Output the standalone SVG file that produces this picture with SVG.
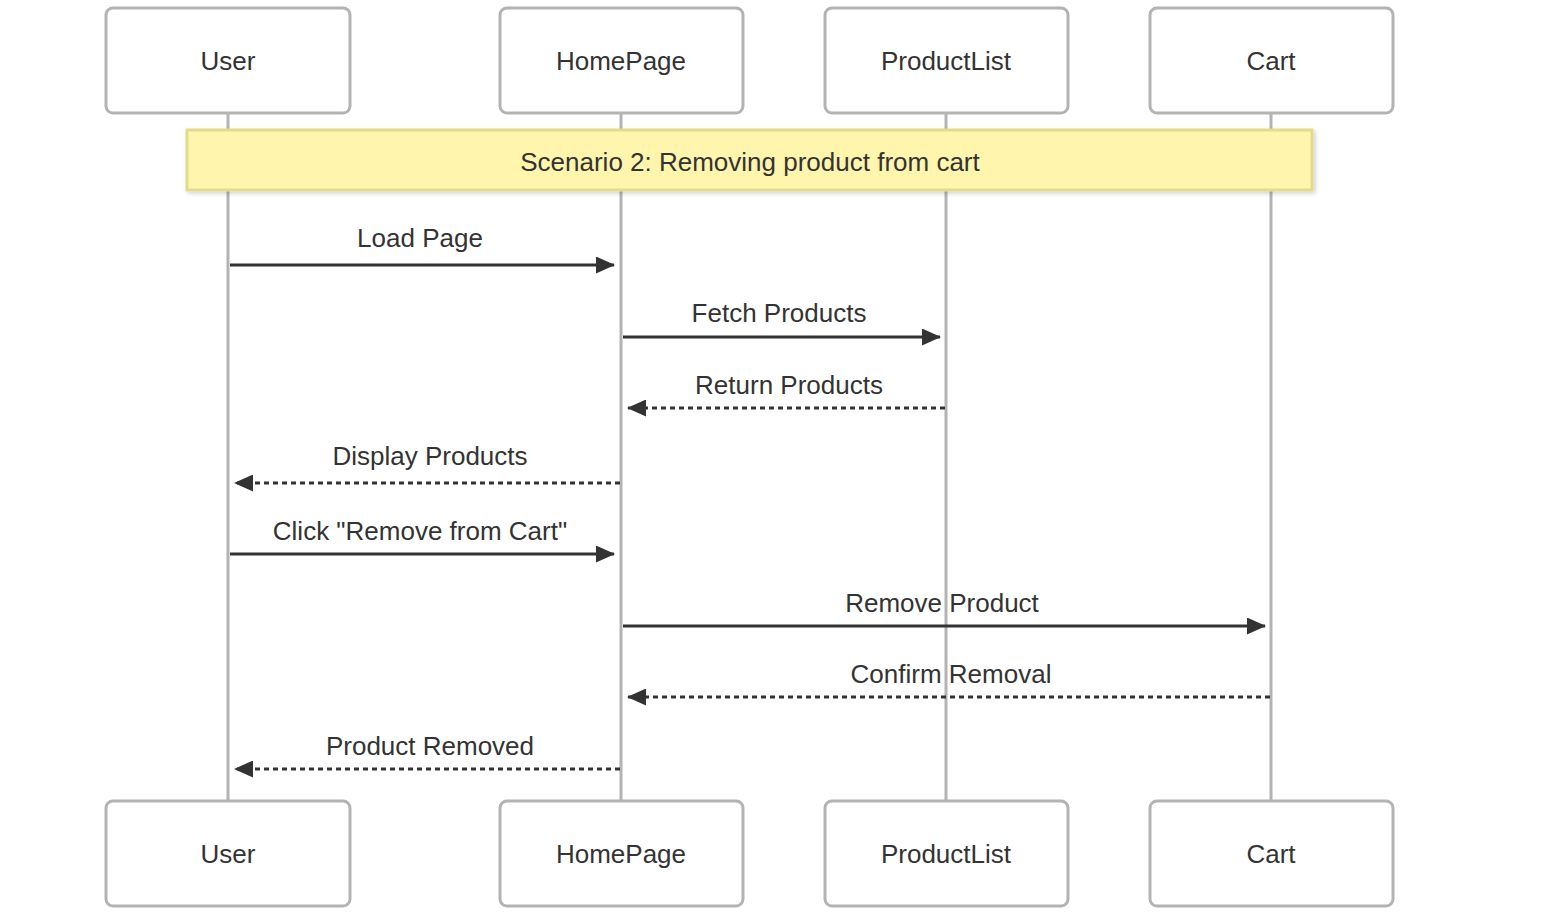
<svg xmlns="http://www.w3.org/2000/svg" width="1546" height="923" viewBox="0 0 1546 923">
<style>
text{font-family:"Liberation Sans",Arial,sans-serif;font-size:26px;fill:#333;text-anchor:middle;dominant-baseline:central}
.actor rect{fill:#fff;stroke:#b3b3b3;stroke-width:3}
.life{stroke:#b3b3b3;stroke-width:3}
.msg{stroke:#333;stroke-width:3;fill:none}
.dash{stroke-dasharray:5,4}
</style>
<defs>
<marker id="ah" markerWidth="19" markerHeight="17" refX="18" refY="8.5" orient="auto" markerUnits="userSpaceOnUse">
<path d="M0,0 L19,8.5 L0,17 Z" fill="#333"/>
</marker>
<filter id="sh" x="-5%" y="-20%" width="110%" height="150%">
<feDropShadow dx="2" dy="2" stdDeviation="2" flood-color="#000" flood-opacity="0.18"/>
</filter>
</defs>
<g id="lifelines">
<line class="life" x1="228" y1="113" x2="228" y2="801"/>
<line class="life" x1="621" y1="113" x2="621" y2="801"/>
<line class="life" x1="946" y1="113" x2="946" y2="801"/>
<line class="life" x1="1271" y1="113" x2="1271" y2="801"/>
</g>
<g id="actor-user-top" class="actor"><rect x="106" y="8" width="244" height="105" rx="7"/><text x="228" y="61">User</text></g>
<g id="actor-homepage-top" class="actor"><rect x="500" y="8" width="243" height="105" rx="7"/><text x="621" y="61">HomePage</text></g>
<g id="actor-productlist-top" class="actor"><rect x="825" y="8" width="243" height="105" rx="7"/><text x="946" y="61">ProductList</text></g>
<g id="actor-cart-top" class="actor"><rect x="1150" y="8" width="243" height="105" rx="7"/><text x="1271" y="61">Cart</text></g>
<g id="note">
<rect x="187" y="130" width="1125" height="60" fill="#fff5ad" stroke="#e3da8e" stroke-width="3" filter="url(#sh)"/>
<text x="750" y="162">Scenario 2: Removing product from cart</text>
</g>
<g id="connectors">
<line class="msg" x1="230" y1="265" x2="614" y2="265" marker-end="url(#ah)"/>
<text x="420" y="238">Load Page</text>
<line class="msg" x1="623" y1="337" x2="940" y2="337" marker-end="url(#ah)"/>
<text x="779" y="313">Fetch Products</text>
<line class="msg dash" x1="945" y1="408" x2="628" y2="408" marker-end="url(#ah)"/>
<text x="789" y="385">Return Products</text>
<line class="msg dash" x1="620" y1="483" x2="235" y2="483" marker-end="url(#ah)"/>
<text x="430" y="456">Display Products</text>
<line class="msg" x1="230" y1="554" x2="614" y2="554" marker-end="url(#ah)"/>
<text x="420" y="531">Click "Remove from Cart"</text>
<line class="msg" x1="623" y1="626" x2="1265" y2="626" marker-end="url(#ah)"/>
<text x="942" y="603">Remove Product</text>
<line class="msg dash" x1="1270" y1="697" x2="628" y2="697" marker-end="url(#ah)"/>
<text x="951" y="674">Confirm Removal</text>
<line class="msg dash" x1="620" y1="769" x2="235" y2="769" marker-end="url(#ah)"/>
<text x="430" y="746">Product Removed</text>
</g>
<g id="actor-user-bottom" class="actor"><rect x="106" y="801" width="244" height="105" rx="7"/><text x="228" y="854">User</text></g>
<g id="actor-homepage-bottom" class="actor"><rect x="500" y="801" width="243" height="105" rx="7"/><text x="621" y="854">HomePage</text></g>
<g id="actor-productlist-bottom" class="actor"><rect x="825" y="801" width="243" height="105" rx="7"/><text x="946" y="854">ProductList</text></g>
<g id="actor-cart-bottom" class="actor"><rect x="1150" y="801" width="243" height="105" rx="7"/><text x="1271" y="854">Cart</text></g>
</svg>
